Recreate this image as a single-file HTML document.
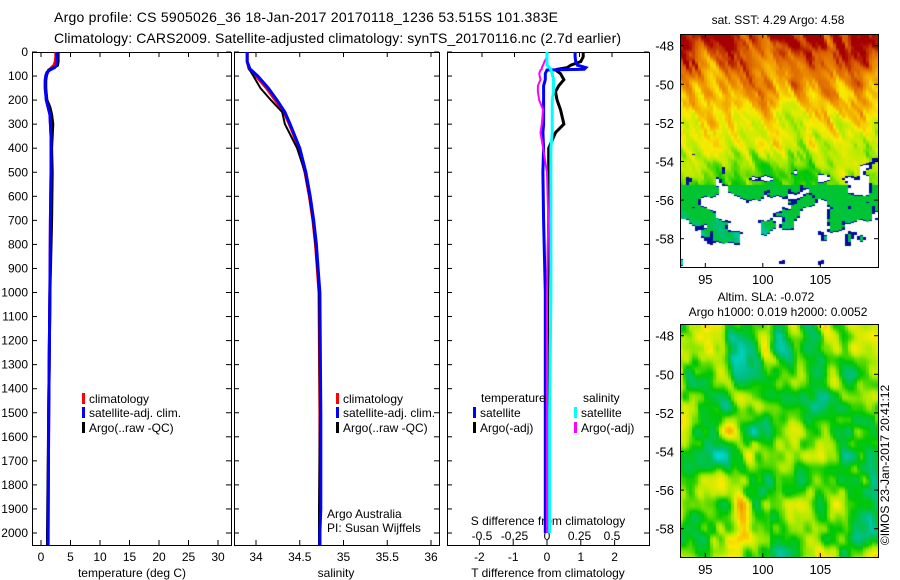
<!DOCTYPE html>
<html><head><meta charset="utf-8">
<style>
html,body{margin:0;padding:0;background:#fff;}
#wrap{position:relative;width:900px;height:580px;overflow:hidden;font-family:"Liberation Sans",sans-serif;}
svg{position:absolute;left:0;top:0;}
canvas{position:absolute;}
</style></head>
<body>
<div id="wrap">
<canvas id="sst" width="198" height="233" style="left:680px;top:34px"></canvas>
<canvas id="sla" width="198" height="233" style="left:680px;top:324px"></canvas>
<svg id="chart" width="900" height="580"></svg>
</div>
<script>
// ---- data ----
const tempDepth = [0,20,40,55,65,75,85,100,120,150,200,230,260,300,350,400,500,700,1000,1500,2000,2050];
const tempClim  = [2.5,2.5,2.4,2.2,1.8,1.4,1.1,0.9,0.8,0.8,0.9,1.2,1.5,1.6,1.7,1.7,1.7,1.6,1.5,1.3,1.2,1.2];
const tempSat   = [2.7,2.7,2.7,2.6,2.3,1.5,1.0,0.8,0.7,0.7,0.9,1.2,1.5,1.6,1.7,1.7,1.7,1.6,1.5,1.3,1.2,1.2];
const tempArgo  = [2.9,2.9,2.9,2.8,2.2,1.3,1.1,0.9,0.8,0.8,1.0,1.5,1.8,2.0,1.9,1.8,1.9,1.8,1.5,1.3,1.1,1.1];
const salDepth  = [0,40,70,100,150,200,250,300,400,500,600,700,800,900,1000,1500,1900,2000,2050];
const salClim   = [33.9,33.9,33.92,34.0,34.12,34.22,34.32,34.38,34.49,34.56,34.61,34.65,34.68,34.7,34.72,34.73,34.73,34.73,34.73];
const salSat    = [33.9,33.9,33.93,34.02,34.14,34.24,34.33,34.39,34.5,34.57,34.62,34.66,34.69,34.71,34.73,34.74,34.74,34.73,34.73];
const salArgo   = [33.9,33.9,33.92,33.97,34.05,34.17,34.3,34.33,34.47,34.56,34.61,34.65,34.68,34.7,34.72,34.73,34.72,34.72,34.72];
const dDepth    = [0,20,40,55,65,72,75,90,115,140,165,200,240,300,335,400,500,700,1000,1500,2000];
const dTsat     = [0.83,0.83,0.85,0.9,1.15,1.1,0.0,-0.05,-0.05,-0.1,-0.1,-0.1,-0.1,-0.1,-0.12,-0.1,-0.12,-0.1,-0.05,-0.05,-0.05];
const dTargo    = [1.07,1.07,1.0,0.7,0.6,0.3,0.25,0.4,0.5,0.35,0.25,0.3,0.4,0.5,0.25,0.05,0.05,0.05,0.02,0.0,0.0];
const dSsat     = [0.0,0.0,0.0,0.0,0.02,0.03,0.03,0.04,0.05,0.05,0.05,0.04,0.04,0.04,0.04,0.03,0.03,0.03,0.03,0.02,0.02];
const dSargo    = [0.0,0.0,-0.02,-0.03,-0.04,-0.04,-0.05,-0.06,-0.05,-0.07,-0.07,-0.06,-0.03,-0.04,-0.05,-0.03,0.0,0.01,0.0,0.0,0.0];
const depthTicks = [0,100,200,300,400,500,600,700,800,900,1000,1100,1200,1300,1400,1500,1600,1700,1800,1900,2000];
const tempTicks = [0,5,10,15,20,25,30];
const salTicks = [34,34.5,35,35.5,36];
const salTickLabels = ["34","34.5","35","35.5","36"];
const dtTicks = [-2,-1,0,1,2];
const dsTicks = [-0.5,-0.25,0,0.25,0.5];
const latTicks = [-48,-50,-52,-54,-56,-58];
const lonTicks = [95,100,105];

// ---- axes ----
const Y0=52, Y1=545;
const yD = d => Y0 + d*0.2405;
const xT = t => 41 + t*5.9;
const xS = s => 256 + (s-34)*87.5;
const xDT = v => 547 + v*33.8;
const xDS = v => 547 + v*130;
const P1=[32,231], P2=[234,439], P3=[447,649];

const svg = document.getElementById('chart');
const NS='http://www.w3.org/2000/svg';
function mk(tag, attrs, parent){ const e=document.createElementNS(NS,tag); for(const k in attrs) e.setAttribute(k,attrs[k]); (parent||svg).appendChild(e); return e; }
function txt(x,y,s,anchor,size,parent){ const e=mk('text',{x:x,y:y,'text-anchor':anchor||'start','font-size':size||12,fill:'#000','font-family':'Liberation Sans, sans-serif'},parent); e.textContent=s; return e; }

const t1=txt(54,22,'Argo profile: CS 5905026_36 18-Jan-2017 20170118_1236 53.515S 101.383E','start',14);


t1.setAttribute('textLength','504');
const t2=txt(54,43,'Climatology: CARS2009. Satellite-adjusted climatology: synTS_20170116.nc (2.7d earlier)','start',14);


t2.setAttribute('textLength','567');

function panel(name,P){
  const r=mk('rect',{x:P[0]+0.5,y:Y0+0.5,width:P[1]-P[0],height:Y1-Y0,fill:'none',stroke:'#000','stroke-width':1});
  
  
  depthTicks.forEach(d=>{
    mk('line',{x1:P[0],x2:P[0]+5,y1:yD(d),y2:yD(d),stroke:'#000'});
    mk('line',{x1:P[1]-5,x2:P[1],y1:yD(d),y2:yD(d),stroke:'#000'});
  });
}
panel('temperature-panel',P1); panel('salinity-panel',P2); panel('difference-panel',P3);
depthTicks.forEach(d=>{ const e=txt(28,yD(d)+4,String(d),'end',12);   });

function xticks(P,ticks,fx,labels,ly,top){
  ticks.forEach((v,i)=>{
    const x=fx(v);
    mk('line',{x1:x,x2:x,y1:Y1-5,y2:Y1,stroke:'#000'});
    if(top) mk('line',{x1:x,x2:x,y1:Y0,y2:Y0+5,stroke:'#000'});
    if(labels){ const e=txt(x,ly,labels[i],'middle',12);   }
  });
}
xticks(P1,tempTicks,xT,tempTicks.map(String),561,true);
xticks(P2,salTicks,xS,salTickLabels,561,true);
xticks(P3,dtTicks,xDT,dtTicks.map(String),561,false);
dsTicks.forEach(v=>{ const e=txt(xDS(v),540,String(v),'middle',12);   mk('line',{x1:xDS(v),x2:xDS(v),y1:Y0,y2:Y0+5,stroke:'#000'}); });
[['temperature (deg C)',132],['salinity',336],['T difference from climatology',548]].forEach(a=>{ const e=txt(a[1],577,a[0],'middle',12);   });
const sdt=txt(548,525,'S difference from climatology','middle',12);  

function line(depths,vals,fx,color,w,name){
  const pts=depths.map((d,i)=>fx(vals[i]).toFixed(1)+','+yD(d).toFixed(1)).join(' ');
  const p=mk('polyline',{points:pts,fill:'none',stroke:color,'stroke-width':w,'stroke-linejoin':'miter'});
  
  
}
line(tempDepth,tempClim,xT,'#f00',3,'temp-climatology-line');
line(tempDepth,tempArgo,xT,'#000',3,'temp-argo-line');
line(tempDepth,tempSat,xT,'#00f',3,'temp-satellite-line');
line(salDepth,salClim,xS,'#f00',3,'sal-climatology-line');
line(salDepth,salArgo,xS,'#000',2,'sal-argo-line');
line(salDepth,salSat,xS,'#00f',3,'sal-satellite-line');
line(dDepth,dTargo,xDT,'#000',3,'tdiff-argo-line');
line(dDepth,dTsat,xDT,'#00f',3,'tdiff-satellite-line');
line(dDepth,dSargo,xDS,'#f0f',2,'sdiff-argo-line');
line(dDepth,dSsat,xDS,'#0ff',3,'sdiff-satellite-line');

function legend(x,y,color,label,name){
  const g=mk('g',{});
  
  
  mk('rect',{x:x,y:y-6,width:3,height:11,fill:color},g);
  txt(x+7,y+4,label,'start',12,g);
}
[[399,'#f00','climatology'],[413,'#00f','satellite-adj. clim.'],[428,'#000','Argo(..raw -QC)']].forEach(a=>{
  legend(82,a[0],a[1],a[2],'legend-entry'); legend(336,a[0],a[1],a[2],'legend-entry');
});
txt(481,402,'temperature','start',12); txt(583,402,'salinity','start',12);
legend(473,413,'#00f','satellite','legend-entry'); legend(473,428,'#000','Argo(-adj)','legend-entry');
legend(574,413,'#0ff','satellite','legend-entry'); legend(574,428,'#f0f','Argo(-adj)','legend-entry');
txt(327,518,'Argo Australia','start',12); txt(327,532,'PI: Susan Wijffels','start',12);

// ---- maps ----
const MX0=680,MX1=878;
const mLon = l => MX0 + (l-92.8)*11.5;
function mapAxes(top,name){
  const r=mk('rect',{x:MX0+0.5,y:top+0.5,width:MX1-MX0,height:233,fill:'none',stroke:'#000'});
  
  
  const mLat = l => top + 11.7 + (-48-l)*19.3;
  latTicks.forEach(l=>{ const y=mLat(l); mk('line',{x1:MX0,x2:MX0+4,y1:y,y2:y,stroke:'#000'}); mk('line',{x1:MX1-4,x2:MX1,y1:y,y2:y,stroke:'#000'}); const e=txt(674,y+5,String(l),'end',13);   });
  lonTicks.forEach(l=>{ const x=mLon(l); mk('line',{x1:x,x2:x,y1:top+233-4,y2:top+233,stroke:'#000'}); mk('line',{x1:x,x2:x,y1:top,y2:top+4,stroke:'#000'}); const e=txt(x,top+250,String(l),'middle',13);   });
}
mapAxes(34,'sst-map-frame'); mapAxes(324,'sla-map-frame');
const s1=txt(778,24,'sat. SST: 4.29  Argo: 4.58','middle',12);  
const s2=txt(766,301,'Altim. SLA: -0.072','middle',12);  
const s3=txt(778,316,'Argo h1000: 0.019 h2000: 0.0052','middle',12);  
const st=txt(0,0,'©IMOS 23-Jan-2017 20:41:12','middle',12); st.setAttribute('transform','translate(889,465) rotate(-90)');  

const stops=[[0,[0,0,140]],[0.15,[0,90,255]],[0.3,[0,220,220]],[0.42,[0,190,130]],[0.55,[0,200,0]],[0.66,[170,235,0]],[0.75,[250,235,0]],[0.85,[240,150,0]],[0.93,[215,90,0]],[1,[165,0,0]]];
function cmap(t){ t=Math.max(0,Math.min(1,t)); for(let i=1;i<stops.length;i++){ if(t<=stops[i][0]){ const a=stops[i-1],b=stops[i],f=(t-a[0])/(b[0]-a[0]); return a[1].map((c,k)=>Math.round(c+(b[1][k]-c)*f)); } } return stops[stops.length-1][1]; }
function hash(i,j,s){ let h=(i*374761393 + j*668265263 + s*982451653)|0; h=(h^(h>>>13))*1274126177|0; h=h^(h>>>16); return (h>>>0)/4294967295; }
function sm(t){ return t*t*(3-2*t); }
function vn(x,y,cx,cy,s){ const gx=x/cx, gy=y/cy; const i=Math.floor(gx), j=Math.floor(gy); const fx=sm(gx-i), fy=sm(gy-j);
  const a=hash(i,j,s),b=hash(i+1,j,s),c=hash(i,j+1,s),d=hash(i+1,j+1,s);
  return a+(b-a)*fx+(c-a)*fy+(a-b-c+d)*fx*fy; }
function drawMap(id,fn){
  const c=document.getElementById(id).getContext('2d'); const img=c.createImageData(198,233);
  for(let y=0;y<233;y++) for(let x=0;x<198;x++){
    const bx=Math.floor(x/3)*3;
    const v=fn(bx,y); const i=(y*198+x)*4;
    if(v===null){ img.data[i]=img.data[i+1]=img.data[i+2]=255; } else { const col=cmap(v); img.data[i]=col[0]; img.data[i+1]=col[1]; img.data[i+2]=col[2]; }
    img.data[i+3]=255;
  }
  c.putImageData(img,0,0);
}
drawMap('sst',(x,y)=>{
  const u=x-y*0.45;
  const n=vn(u,y,9,28,1)*0.6+vn(u,y,4,10,2)*0.4;
  let v=0.98-(y/233)*0.62+(n-0.5)*0.28;
  if(y>118){
    const m=vn(x,y,14,12,3)*0.7+vn(x,y,6,6,4)*0.3 + (y-118)/115*0.75;
    if(m>0.88) return null;
    if(m>0.83) return 0.02;
    if(y>150) v=Math.min(v,0.5);
  }
  return v;
});
drawMap('sla',(x,y)=>{
  const u=x-y*0.15;
  const n=vn(u,y,16,26,5)*0.65+vn(u,y,8,12,6)*0.35;
  let v=0.57+(n-0.5)*0.55;
  if(y>150&&x<90) v+=0.1*(y-150)/80;
  return v;
});
</script>
</body></html>
